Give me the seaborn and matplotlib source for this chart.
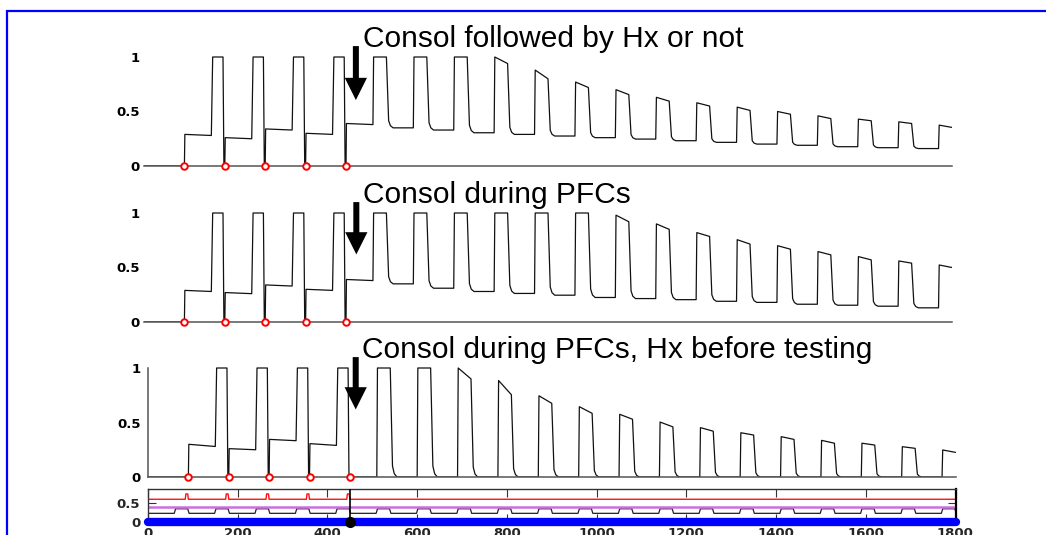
import matplotlib
matplotlib.use("Agg")
import matplotlib.pyplot as plt
import seaborn as sns
import pandas as pd
from matplotlib.patches import Rectangle

# ---- data ----
cue_times = [90, 180, 270, 360, 450]
pulse_onsets = [510, 600, 690, 780, 870, 960, 1050, 1140, 1230, 1320, 1410, 1500, 1590, 1680, 1770]
stim_onsets = [60, 150, 240, 330, 420, 510, 600, 690, 780, 870, 960, 1050, 1140,
               1230, 1320, 1410, 1500, 1590, 1680, 1770]
red_bump_times = [87, 177, 267, 357, 447]
cursor_time = 450
x_ticks = [0, 200, 400, 600, 800, 1000, 1200, 1400, 1600, 1800]

titles = ["Consol followed by Hx or not", "Consol during PFCs",
          "Consol during PFCs, Hx before testing"]

# panel 1
plateau_1 = [(0.29, 0.28), (0.26, 0.25), (0.34, 0.33), (0.30, 0.29), (0.39, 0.38)]
peak_start_1 = [1, 1, 1, 1.0, 0.88, 0.77, 0.70, 0.63, 0.58, 0.54, 0.50, 0.46, 0.43, 0.405, 0.375]
peak_end_1 = [1, 1, 1, 0.94, 0.80, 0.72, 0.655, 0.595, 0.55, 0.51, 0.475, 0.435, 0.415, 0.39, 0.354]
base_1 = [0.35, 0.33, 0.305, 0.29, 0.275, 0.26, 0.247, 0.232, 0.217, 0.201, 0.19, 0.177, 0.168, 0.16]

# panel 2
plateau_2 = [(0.29, 0.28), (0.27, 0.26), (0.34, 0.33), (0.30, 0.29), (0.39, 0.38)]
peak_start_2 = [1, 1, 1, 1, 1, 1, 0.98, 0.90, 0.82, 0.755, 0.70, 0.646, 0.60, 0.56, 0.523]
peak_end_2 = [1, 1, 1, 1, 1, 1, 0.92, 0.85, 0.785, 0.715, 0.668, 0.616, 0.57, 0.54, 0.50]
base_2 = [0.35, 0.31, 0.28, 0.262, 0.246, 0.225, 0.215, 0.205, 0.19, 0.18, 0.163, 0.154, 0.145, 0.13]

# panel 3
plateau_3 = [(0.30, 0.28), (0.26, 0.25), (0.345, 0.333), (0.306, 0.29)]
peak_start_3 = [1, 1, 1, 0.885, 0.745, 0.645, 0.575, 0.504, 0.453, 0.406, 0.37, 0.336, 0.31, 0.278, 0.248]
peak_end_3 = [1, 1, 0.90, 0.755, 0.676, 0.584, 0.53, 0.46, 0.42, 0.385, 0.345, 0.31, 0.293, 0.263, 0.226]
base_3 = [0, 0, 0, 0, 0, 0, 0, 0, 0, 0, 0, 0, 0, 0]

# bottom strip levels
red_base, red_peak = 0.59, 0.73
violet_level = 0.39
stim_low, stim_high = 0.22, 0.34


def build_trace(plateaus, peak_start, peak_end, bases):
    t, v = [0.0], [0.0]
    for i, c in enumerate(cue_times):
        t.append(c); v.append(0.0)
        if i < len(plateaus):
            t += [c + 1, c + 60]; v += list(plateaus[i])
        else:
            t.append(c + 60); v.append(0.0)
        if c < cursor_time:
            t += [c + 63, c + 86, c + 88]; v += [1, 1, 0]
    for j, o in enumerate(pulse_onsets):
        t += [o + 1.5, o + 30]; v += [peak_start[j], peak_end[j]]
        if j < len(bases):
            b, pe = bases[j], peak_end[j]
            t += [o + 35, o + 39, o + 45, o + 90]
            v += [b + 0.10 * (pe - b), b + 0.03 * (pe - b), b, b]
    return pd.DataFrame({"t": t, "v": v})


sns.set_theme(style="white")
plt.rcParams["font.family"] = ["Liberation Sans", "DejaVu Sans"]

W, H = 1046, 535
fig = plt.figure(figsize=(W / 100, H / 100), dpi=100)
fig.patch.set_facecolor("white")


def px_axes(left, right, top, bottom):
    return fig.add_axes([left / W, 1 - bottom / H, (right - left) / W, (bottom - top) / H])


tick_font = dict(family="DejaVu Sans", weight="bold", size=9.5)
spine_col = "#555555"

panels = [
    dict(rect=(144, 952, 20, 166), data=(plateau_1, peak_start_1, peak_end_1, base_1),
         title_x=488, arrow_x=472, tip=0.605, left_spine=False, ypad=3),
    dict(rect=(144, 952, 172, 322), data=(plateau_2, peak_start_2, peak_end_2, base_2),
         title_x=488, arrow_x=473, tip=0.62, left_spine=False, ypad=3),
    dict(rect=(148, 955.5, 328, 477), data=(plateau_3, peak_start_3, peak_end_3, base_3),
         title_x=478, arrow_x=463, tip=0.62, left_spine=True, ypad=5),
]

for k, p in enumerate(panels):
    left, right, top, bottom = p["rect"]
    ax = px_axes(left, right, top, bottom)
    ax.set_facecolor("white")
    df = build_trace(*p["data"])
    sns.lineplot(data=df, x="t", y="v", sort=False, estimator=None,
                 color="#111111", lw=0.9, ax=ax)
    cues = pd.DataFrame({"t": cue_times, "v": [0] * len(cue_times)})
    sns.scatterplot(data=cues, x="t", y="v", marker="o", s=22, facecolor="white",
                    edgecolor="red", linewidth=1.4, zorder=5, ax=ax)
    ax.collections[-1].set_clip_on(False)
    ax.set_xlim(0, 1800)
    ax.set_ylim(0, (bottom - top) / 109)
    ax.set_xlabel("")
    ax.set_ylabel("")
    ax.set_xticks(x_ticks)
    ax.set_xticklabels([])
    ax.set_yticks([0, 0.5, 1])
    ax.set_yticklabels(["0", "0.5", "1"], fontdict=tick_font)
    ax.tick_params(axis="x", direction="in", length=6, width=0.8, color=spine_col)
    ax.tick_params(axis="y", direction="in", length=5, width=0.8, color=spine_col,
                   pad=p["ypad"], labelcolor="black")
    for s in ["top", "right"]:
        ax.spines[s].set_visible(False)
    ax.spines["left"].set_visible(p["left_spine"])
    ax.spines["left"].set_bounds(0, 1)
    for s in ["bottom", "left"]:
        ax.spines[s].set_color(spine_col)
        ax.spines[s].set_linewidth(1.1)
    ax.text(p["title_x"], 1.09, titles[k], fontsize=21.5, ha="left", va="baseline",
            family="Liberation Sans", color="black")
    ax.annotate("", xy=(p["arrow_x"], p["tip"]), xytext=(p["arrow_x"], 1.10),
                arrowprops=dict(arrowstyle="simple,head_length=1.0,head_width=1.0,tail_width=0.27",
                                mutation_scale=16, fc="black", ec="none",
                                shrinkA=0, shrinkB=0),
                annotation_clip=False)

# ---- bottom strip ----
ax = px_axes(148, 955.5, 489, 521.7)
ax.set_facecolor("white")

red_t, red_v = [0], [red_base]
for b in red_bump_times:
    red_t += [b - 4, b - 2.5, b + 1.5, b + 3]
    red_v += [red_base, red_peak, red_peak, red_base]
red_t.append(1800); red_v.append(red_base)

sq_t, sq_v = [0], [stim_low]
for on in stim_onsets:
    sq_t += [on - 1.5, on + 1.5, on + 28.5, on + 31.5]
    sq_v += [stim_low, stim_high, stim_high, stim_low]

sns.lineplot(x=sq_t, y=sq_v, sort=False, estimator=None, color="#222222", lw=0.9, ax=ax)
sns.lineplot(x=[0, 1800], y=[violet_level, violet_level], sort=False, estimator=None,
             color="#cc6ee0", lw=1.8, ax=ax)
sns.lineplot(x=red_t, y=red_v, sort=False, estimator=None, color="#ff1010", lw=1.0, ax=ax)
ax.axvline(cursor_time, color="black", lw=1.2, zorder=3)
ax.plot([0, 1800], [0, 0], color="#0000ff", lw=6, solid_capstyle="round",
        zorder=6, clip_on=False)
ax.plot([cursor_time], [0], "o", color="black", ms=7, zorder=7, clip_on=False)

ax.set_xlim(0, 1800)
ax.set_ylim(0, 0.86)
ax.set_xticks(x_ticks)
ax.set_xticklabels([str(x) for x in x_ticks], fontdict=tick_font)
ax.set_yticks([0, 0.5])
ax.set_yticklabels(["0", "0.5"], fontdict=tick_font)
ax.tick_params(axis="both", direction="in", length=6, width=0.8, color="#333333",
               top=True, right=True, bottom=True, left=True)
ax.tick_params(axis="x", pad=3.5)
ax.tick_params(axis="y", pad=5.5)
for s in ax.spines.values():
    s.set_visible(True)
    s.set_color("#333333")
    s.set_linewidth(1.0)
ax.spines["right"].set_linewidth(1.6)
ax.spines["right"].set_color("black")

# blue frame around the figure (open to the right / bottom, as cropped)
fig.add_artist(Rectangle((7 / W, -0.2), 1.5, 1.2 - 10.5 / H, transform=fig.transFigure,
                         fill=False, ec="#0000ff", lw=1.6))

fig.savefig("out.png", dpi=100, facecolor="white")
